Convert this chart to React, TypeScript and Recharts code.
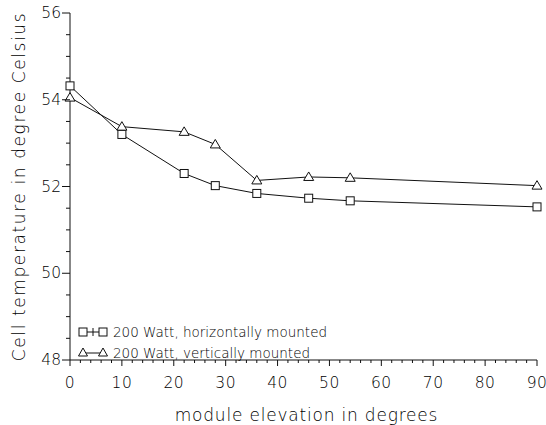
import React from 'react';
import { LineChart, Line, XAxis, YAxis, Legend } from 'recharts';

const elevations = [0, 10, 22, 28, 36, 46, 54, 90];
const horizontalTemps = [54.32, 53.2, 52.3, 52.02, 51.84, 51.73, 51.67, 51.53];
const verticalTemps = [54.05, 53.38, 53.26, 52.97, 52.14, 52.22, 52.2, 52.02];

const xMajorTicks = [0, 10, 20, 30, 40, 50, 60, 70, 80, 90];
const xAllTicks = [0, 2, 4, 6, 8, 10, 12, 14, 16, 18, 20, 22, 24, 26, 28, 30, 32, 34, 36, 38, 40, 42, 44, 46, 48, 50, 52, 54, 56, 58, 60, 62, 64, 66, 68, 70, 72, 74, 76, 78, 80, 82, 84, 86, 88, 90];
const yMajorTicks = [48, 50, 52, 54, 56];
const yAllTicks = [48, 48.5, 49, 49.5, 50, 50.5, 51, 51.5, 52, 52.5, 53, 53.5, 54, 54.5, 55, 55.5, 56];

const seriesNames = ['200 Watt, horizontally mounted', '200 Watt, vertically mounted'];

const data = elevations.map((e, i) => ({ elev: e, h: horizontalTemps[i], v: verticalTemps[i] }));

const FONT = "'DejaVu Sans', sans-serif";
const INK = '#111';
const TXT = '#000';
const W = 300;

const XTick = (props: any) => {
  const { x, y, payload } = props;
  const major = xMajorTicks.includes(payload.value);
  return (
    <g>
      <line x1={x} x2={x} y1={y} y2={y + (major ? 6 : 3)} stroke={INK} strokeWidth={1} />
      {major && (
        <text x={x} y={y + 23} textAnchor="middle" dominantBaseline="central" fontFamily={FONT} fontWeight={W} fontSize={15.5} fill={TXT} letterSpacing={0.5}>
          {payload.value}
        </text>
      )}
    </g>
  );
};

const YTick = (props: any) => {
  const { x, y, payload } = props;
  const major = yMajorTicks.includes(payload.value);
  return (
    <g>
      <line x1={x - (major ? 8 : 4)} x2={x} y1={y} y2={y} stroke={INK} strokeWidth={1} />
      {major && (
        <text x={x - 9} y={y} textAnchor="end" dominantBaseline="central" fontFamily={FONT} fontWeight={W} fontSize={15.5} fill={TXT}>
          {payload.value}
        </text>
      )}
    </g>
  );
};

const SquareDot = (props: any) => {
  const { cx, cy } = props;
  if (cx == null || cy == null) return null;
  return <rect x={cx - 4} y={cy - 4} width={8} height={8} fill="#fff" stroke={INK} strokeWidth={1} />;
};

const TriangleDot = (props: any) => {
  const { cx, cy } = props;
  if (cx == null || cy == null) return null;
  return <polygon points={`${cx},${cy - 5} ${cx - 5},${cy + 3.5} ${cx + 5},${cy + 3.5}`} fill="#fff" stroke={INK} strokeWidth={1} />;
};

const LegendContent = () => (
  <svg width={280} height={44}>
    <g>
      <line x1={5} x2={25} y1={11} y2={11} stroke={INK} />
      <line x1={15} x2={15} y1={7} y2={15} stroke={INK} />
      <rect x={1} y={7} width={8} height={8} fill="#fff" stroke={INK} />
      <rect x={21} y={7} width={8} height={8} fill="#fff" stroke={INK} />
      <text x={35} y={11} dominantBaseline="central" fontFamily={FONT} fontWeight={W} fontSize={13.5} fill={TXT}>{seriesNames[0]}</text>
    </g>
    <g>
      <line x1={5} x2={25} y1={32} y2={32} stroke={INK} />
      <polygon points="5,27 0.5,35 9.5,35" fill="#fff" stroke={INK} />
      <polygon points="25,27 20.5,35 29.5,35" fill="#fff" stroke={INK} />
      <text x={35} y={32} dominantBaseline="central" fontFamily={FONT} fontWeight={W} fontSize={13.5} fill={TXT}>{seriesNames[1]}</text>
    </g>
  </svg>
);

export default function App() {
  return (
    <div style={{ position: 'absolute', left: 0, top: 0, background: '#fff' }}>
      <LineChart width={546} height={425} data={data} margin={{ top: 13, right: 9, left: 0, bottom: 0 }}>
        <XAxis
          dataKey="elev"
          type="number"
          domain={[0, 90]}
          ticks={xAllTicks}
          interval={0}
          tickSize={0}
          tickMargin={0}
          tickLine={false}
          tick={<XTick />}
          height={65}
          stroke={INK}
          axisLine={{ stroke: INK, strokeWidth: 1 }}
          label={(p: any) => {
            const vb = p.viewBox || {};
            return (
              <text x={(vb.x ?? 70) + (vb.width ?? 467) / 2 + 3} y={415} textAnchor="middle" dominantBaseline="central" fontFamily={FONT} fontWeight={W} fontSize={17} fill={TXT} letterSpacing={0.8}>
                module elevation in degrees
              </text>
            );
          }}
        />
        <YAxis
          type="number"
          domain={[48, 56]}
          ticks={yAllTicks}
          interval={0}
          width={70}
          tickSize={0}
          tickMargin={0}
          tickLine={false}
          tick={<YTick />}
          axisLine={{ stroke: INK, strokeWidth: 1 }}
          label={(p: any) => {
            const vb = p.viewBox || {};
            const cy = (vb.y ?? 13) + (vb.height ?? 347) / 2;
            return (
              <text x={19} y={cy} transform={`rotate(-90 19 ${cy})`} textAnchor="middle" dominantBaseline="central" fontFamily={FONT} fontWeight={W} fontSize={17} fill={TXT} letterSpacing={1.6}>
                Cell temperature in degree Celsius
              </text>
            );
          }}
        />
        <Legend
          layout="vertical"
          align="center"
          verticalAlign="middle"
          content={<LegendContent />}
          wrapperStyle={{ left: 78, top: 321, width: 280, height: 44 }}
        />
        <Line dataKey="h" name={seriesNames[0]} type="linear" stroke={INK} strokeWidth={1} dot={<SquareDot />} activeDot={false} isAnimationActive={false} />
        <Line dataKey="v" name={seriesNames[1]} type="linear" stroke={INK} strokeWidth={1} dot={<TriangleDot />} activeDot={false} isAnimationActive={false} />
      </LineChart>
    </div>
  );
}
